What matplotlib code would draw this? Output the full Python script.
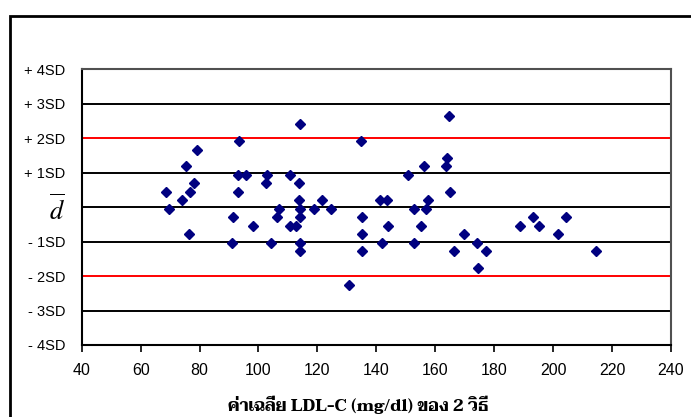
import matplotlib
matplotlib.use("Agg")
import matplotlib.pyplot as plt
from matplotlib.patches import Rectangle

# ค่าเฉลี่ยของ 2 วิธี (mg/dl) และผลต่างในหน่วย SD
mean_ldl = [68.6, 69.7, 74.2, 75.3, 76.9, 78.1, 79.3, 76.4,
            93.4, 93.0, 95.9, 93.0, 91.5, 98.1, 90.9,
            102.9, 102.5, 110.7, 113.7, 113.7, 114.2, 114.2, 107.1, 106.2,
            110.7, 112.9, 119.0, 121.4, 124.7, 114.2, 104.2, 114.2, 114.2,
            130.8, 134.7, 135.2, 135.2, 135.2, 141.1, 143.6, 144.1, 141.9,
            150.7, 152.8, 152.9, 155.1, 156.3, 156.8, 157.4,
            164.5, 163.9, 163.5, 165.1, 166.3, 169.6, 174.0, 174.6, 177.3,
            188.9, 193.3, 195.2, 201.7, 204.4, 214.5]
diff_sd = [0.44, -0.05, 0.20, 1.18, 0.44, 0.69, 1.67, -0.79,
           1.91, 0.93, 0.93, 0.44, -0.29, -0.54, -1.03,
           0.93, 0.69, 0.93, 0.69, 0.20, -0.05, -0.29, -0.05, -0.29,
           -0.54, -0.54, -0.05, 0.20, -0.05, 2.40, -1.03, -1.03, -1.28,
           -2.26, 1.91, -0.29, -0.79, -1.28, 0.20, 0.20, -0.54, -1.03,
           0.93, -0.05, -1.03, -0.54, 1.18, -0.05, 0.20,
           2.65, 1.42, 1.18, 0.44, -1.28, -0.79, -1.03, -1.77, -1.28,
           -0.54, -0.29, -0.54, -0.79, -0.29, -1.28]

sd_levels = [-4, -3, -2, -1, 0, 1, 2, 3, 4]
sd_labels = ["- 4SD", "- 3SD", "- 2SD", "- 1SD", r"$\overline{d}$",
             "+ 1SD", "+ 2SD", "+ 3SD", "+ 4SD"]
x_ticks = [40, 60, 80, 100, 120, 140, 160, 180, 200, 220, 240]
xlabel = "ค่าเฉลี่ย LDL-C (mg/dl) ของ 2 วิธี"

plt.rcParams["font.family"] = ["Liberation Sans", "DejaVu Sans"]
plt.rcParams["mathtext.fontset"] = "stix"

fig = plt.figure(figsize=(6.91, 4.17), dpi=100)
# กรอบรอบรูป
fig.patches.append(Rectangle((10 / 691, -0.05), 1.1, 1 - 16 / 417 + 0.05,
                             transform=fig.transFigure, fill=False,
                             edgecolor="black", lw=2))

ax = fig.add_axes([81.7 / 691, 1 - 345 / 417, 589.3 / 691, 275.7 / 417])
ax.set_xlim(40, 240)
ax.set_ylim(-4, 4)

for lv in sd_levels[1:-1]:
    ax.axhline(lv, color="red" if abs(lv) == 2 else "black", lw=1.4,
               zorder=1)

ax.plot(mean_ldl, diff_sd, "D", color="#000080", ms=5, mec="#000080",
        zorder=3, clip_on=False)

ax.set_xticks(x_ticks)
ax.set_xticklabels([str(v) for v in x_ticks], fontsize=11.5)
ax.tick_params(axis="x", direction="out", length=5, width=1.2, pad=8)
ax.set_yticks(sd_levels)
ax.set_yticklabels(sd_labels, fontsize=10.5)
ax.tick_params(axis="y", length=0, pad=12)
dlab = ax.get_yticklabels()[4]
dlab.set_fontsize(19)
dlab.set_y(-0.05)

for side in ("left", "bottom"):
    ax.spines[side].set_color("black")
    ax.spines[side].set_linewidth(1.5)
for side in ("top", "right"):
    ax.spines[side].set_color("#505050")
    ax.spines[side].set_linewidth(1.5)

fig.text(358 / 691, 1 - 405 / 417, xlabel, ha="center", va="center",
         family=["Taviraj", "DejaVu Sans"], fontweight="bold", fontsize=12)

fig.savefig("out.png", dpi=100, facecolor="white")
